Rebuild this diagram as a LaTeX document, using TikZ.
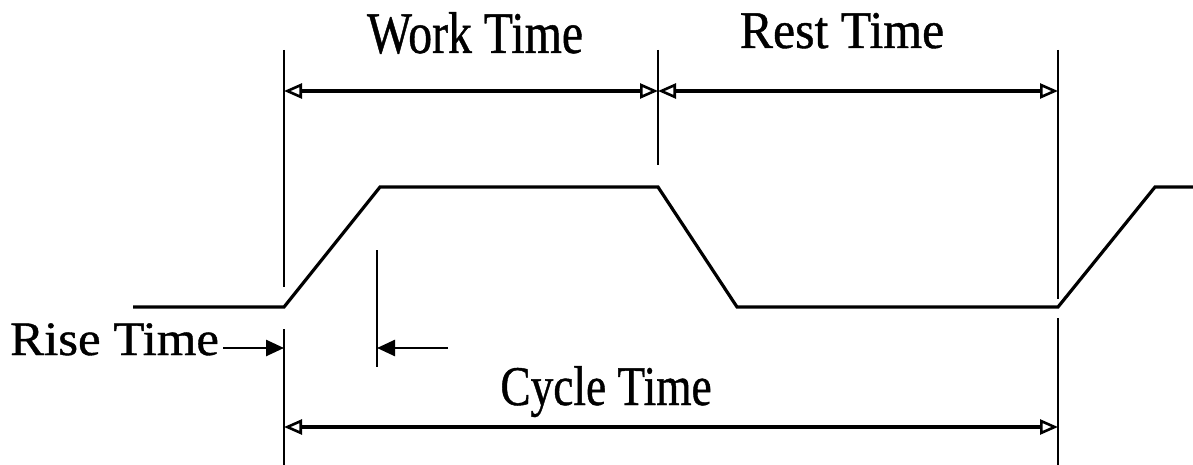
\documentclass[tikz,border=0pt]{standalone}
\usepackage{fontspec}
\setmainfont{Liberation Serif}
\newfontfamily\heavy[FakeBold=0.8]{Liberation Serif}
\usetikzlibrary{arrows.meta}
\begin{document}
\begin{tikzpicture}[x=1pt,y=-1pt,
  wave/.style={line width=3.2pt, line join=miter},
  ext/.style={line width=1.8pt},
  dim/.style={line width=3.2pt, {Triangle[open,length=18pt,width=15pt,line width=2.6pt]}-{Triangle[open,length=18pt,width=15pt,line width=2.6pt]}},
  lead/.style={line width=2.6pt, -{Triangle[length=18pt,width=16pt]}},
  lbl/.style={inner sep=0pt, anchor=base, font=\heavy}]
\useasboundingbox (0,0) rectangle (1193,465);
% waveform
\coordinate (w0) at (133,307);
\coordinate (w1) at (284,307);
\coordinate (w2) at (380,187);
\coordinate (w3) at (658,187);
\coordinate (w4) at (737,307);
\coordinate (w5) at (1058,307);
\coordinate (w6) at (1155,187);
\coordinate (w7) at (1193,187);
\draw[wave] (w0) -- (w1) -- (w2) -- (w3) -- (w4) -- (w5) -- (w6) -- (w7);
% extension lines
\coordinate (a0) at (284,50);  \coordinate (a1) at (284,287);
\coordinate (a2) at (284,329); \coordinate (a3) at (284,465);
\coordinate (b0) at (658,50);  \coordinate (b1) at (658,165);
\coordinate (c0) at (1058,50); \coordinate (c1) at (1058,299);
\coordinate (c2) at (1058,318); \coordinate (c3) at (1058,465);
\coordinate (d0) at (377,250); \coordinate (d1) at (377,367);
\draw[ext] (a0) -- (a1) (a2) -- (a3) (b0) -- (b1) (c0) -- (c1) (c2) -- (c3);
\draw[line width=2.2pt] (d0) -- (d1);
% dimension lines
\coordinate (t1) at (284,91); \coordinate (t2) at (658,91); \coordinate (t3) at (1058,91);
\coordinate (u1) at (284,427); \coordinate (u3) at (1058,427);
\draw[dim] (t1) -- (t2);
\draw[dim] (t2) -- (t3);
\draw[dim] (u1) -- (u3);
% rise time markers
\coordinate (r0) at (223,348); \coordinate (r1) at (284,348);
\coordinate (s0) at (448,348); \coordinate (s1) at (377,348);
\draw[lead] (r0) -- (r1);
\draw[lead] (s0) -- (s1);
% labels
\node[lbl] (work) at (475,53) {\fontsize{59}{59}\selectfont\scalebox{0.81}[1]{Work Time}};
\node[lbl] (rest) at (842,48) {\fontsize{53}{53}\selectfont\scalebox{0.94}[1]{Rest Time}};
\node[lbl] (cycle) at (606,405) {\fontsize{56}{56}\selectfont\scalebox{0.81}[1]{Cycle Time}};
\node[lbl, anchor=base west] (rise) at (10,355) {\fontsize{48}{48}\selectfont\scalebox{1.06}[1]{Rise Time}};
\end{tikzpicture}
\end{document}
